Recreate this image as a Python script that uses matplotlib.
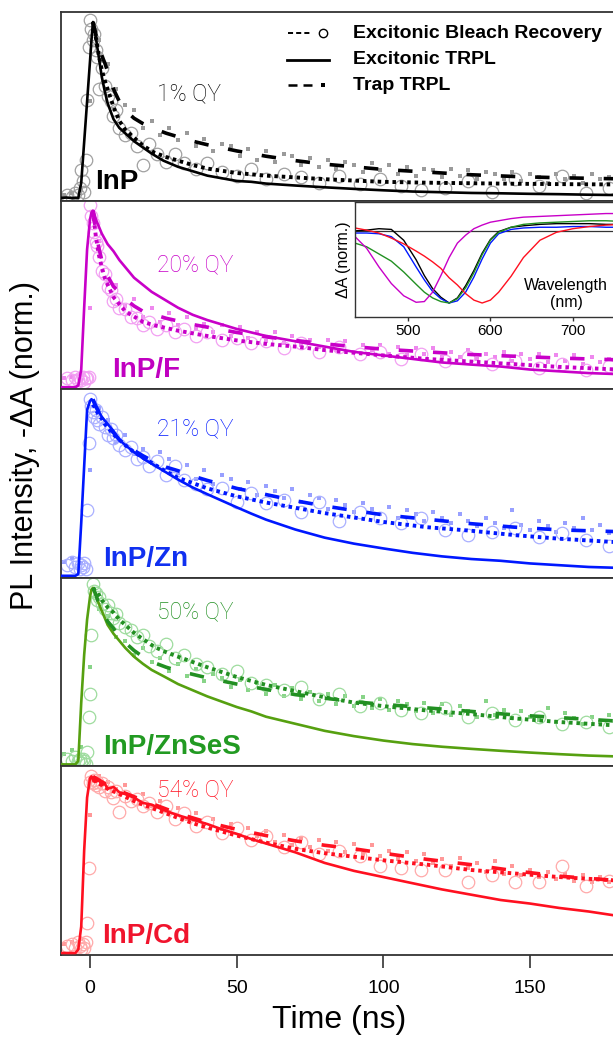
import numpy as np
import matplotlib
matplotlib.use("Agg")
import matplotlib.pyplot as plt

plt.rcParams['font.family'] = ['Liberation Sans', 'DejaVu Sans']

W, H = 613, 1039

samples = ["InP", "InP/F", "InP/Zn", "InP/ZnSeS", "InP/Cd"]
qy_labels = ["1% QY", "20% QY", "21% QY", "50% QY", "54% QY"]

# time grids (ns)
t_pl = [-10, -8, -6, -5, -4, -3, -2, -1, 0, 0.5, 1, 1.5, 2, 3, 4, 5, 6, 8, 10, 12, 15,
        18, 21, 25, 30, 35, 40, 45, 50, 55, 60, 70, 80, 90, 100, 110, 120, 130, 140,
        150, 160, 170, 180]
t_fit = [1, 2, 3, 4, 5, 6, 8, 10, 12, 15, 18, 22, 26, 30, 35, 40, 50, 60, 70, 80, 90,
         100, 115, 130, 145, 160, 180]
t_bleach = [-8, -6, -5, -4, -3.5, -3, -2.5, -2, -1.5, -1, -0.5, 0, 0.5, 1, 1.5, 2, 2.5,
            3, 4, 5, 6, 7, 8, 9, 10, 12, 14, 16, 18, 20, 23, 26, 29, 32, 36, 40, 45, 50,
            55, 60, 66, 72, 78, 85, 92, 99, 106, 113, 121, 129, 137, 145, 153, 161, 169,
            177]
t_trap = np.arange(-9, 181, 3)

# excitonic TRPL
pl_inp = [0.004, 0.006, 0.003, 0.005, 0.004, 0.09, 0.32, 0.55, 0.78, 0.90, 1.0, 0.96,
          0.91, 0.80, 0.69, 0.61, 0.54, 0.45, 0.40, 0.37, 0.325, 0.29, 0.255, 0.215,
          0.18, 0.155, 0.13, 0.115, 0.10, 0.095, 0.085, 0.074, 0.064, 0.055, 0.047,
          0.04, 0.036, 0.032, 0.03, 0.027, 0.025, 0.022, 0.02]
pl_f = [0.0, 0.0, 0.0, 0.0, 0.01, 0.10, 0.45, 0.78, 0.95, 0.99, 1.0, 0.98, 0.95, 0.91,
        0.87, 0.84, 0.81, 0.77, 0.72, 0.68, 0.62, 0.58, 0.54, 0.50, 0.45, 0.41, 0.38,
        0.355, 0.33, 0.31, 0.29, 0.26, 0.23, 0.20, 0.18, 0.16, 0.14, 0.128, 0.117, 0.10,
        0.09, 0.08, 0.074]
pl_zn = [0.0, 0.0, 0.0, 0.0, 0.01, 0.30, 0.62, 0.94, 0.99, 1.0, 0.99, 0.97, 0.95, 0.93,
         0.90, 0.88, 0.86, 0.82, 0.77, 0.74, 0.70, 0.665, 0.635, 0.595, 0.545, 0.50,
         0.462, 0.425, 0.388, 0.352, 0.318, 0.262, 0.216, 0.182, 0.155, 0.13, 0.11,
         0.095, 0.085, 0.07, 0.06, 0.05, 0.045]
pl_znses = [0.0, 0.0, 0.0, 0.0, 0.02, 0.35, 0.62, 0.82, 0.95, 0.99, 1.0, 0.98, 0.96,
            0.91, 0.87, 0.83, 0.79, 0.74, 0.70, 0.66, 0.61, 0.57, 0.535, 0.50, 0.455,
            0.42, 0.385, 0.355, 0.325, 0.30, 0.27, 0.23, 0.19, 0.16, 0.135, 0.115, 0.10,
            0.088, 0.077, 0.067, 0.058, 0.05, 0.045]
pl_cd = [0.0, 0.0, 0.0, 0.0, 0.02, 0.15, 0.58, 0.88, 0.99, 1.0, 0.98, 0.99, 0.97, 0.98,
         0.95, 0.96, 0.93, 0.94, 0.91, 0.90, 0.88, 0.85, 0.84, 0.81, 0.78, 0.755, 0.73,
         0.70, 0.675, 0.645, 0.62, 0.57, 0.51, 0.465, 0.43, 0.395, 0.36, 0.33, 0.30,
         0.28, 0.255, 0.235, 0.21]

# trap TRPL fits
trapfit_inp = [1.0, 0.93, 0.87, 0.81, 0.77, 0.72, 0.62, 0.55, 0.50, 0.455, 0.425, 0.395,
               0.37, 0.35, 0.325, 0.305, 0.27, 0.24, 0.215, 0.195, 0.18, 0.165, 0.15,
               0.135, 0.125, 0.118, 0.112]
trapfit_f = [1.0, 0.88, 0.79, 0.72, 0.67, 0.63, 0.57, 0.54, 0.50, 0.46, 0.43, 0.41, 0.39,
             0.375, 0.355, 0.34, 0.31, 0.285, 0.265, 0.245, 0.23, 0.215, 0.20, 0.185,
             0.175, 0.165, 0.155]
trapfit_zn = [1.0, 0.96, 0.93, 0.90, 0.87, 0.85, 0.81, 0.77, 0.74, 0.71, 0.68, 0.645,
              0.615, 0.595, 0.565, 0.54, 0.495, 0.46, 0.425, 0.395, 0.37, 0.345, 0.32,
              0.295, 0.275, 0.26, 0.25]
trapfit_znses = [1.0, 0.96, 0.91, 0.87, 0.84, 0.81, 0.77, 0.72, 0.69, 0.645, 0.61, 0.575,
                 0.55, 0.53, 0.51, 0.49, 0.455, 0.425, 0.395, 0.375, 0.355, 0.34, 0.32,
                 0.30, 0.28, 0.265, 0.245]
trapfit_cd = [1.0, 0.99, 0.98, 0.97, 0.96, 0.95, 0.935, 0.92, 0.905, 0.885, 0.865, 0.84,
              0.815, 0.79, 0.765, 0.74, 0.70, 0.665, 0.635, 0.61, 0.59, 0.565, 0.53, 0.50,
              0.465, 0.435, 0.41]

# excitonic bleach recovery fits
bleachfit_inp = [1.0, 0.91, 0.81, 0.73, 0.67, 0.62, 0.52, 0.44, 0.39, 0.345, 0.30, 0.26,
                 0.235, 0.215, 0.19, 0.17, 0.145, 0.13, 0.12, 0.11, 0.102, 0.095, 0.09,
                 0.087, 0.084, 0.082, 0.08]
bleachfit_f = [1.0, 0.85, 0.75, 0.68, 0.62, 0.58, 0.51, 0.47, 0.43, 0.40, 0.37, 0.35,
               0.335, 0.32, 0.305, 0.29, 0.265, 0.245, 0.23, 0.21, 0.195, 0.18, 0.16,
               0.145, 0.13, 0.115, 0.10]
bleachfit_zn = [0.97, 0.94, 0.91, 0.89, 0.86, 0.84, 0.80, 0.77, 0.74, 0.70, 0.67, 0.63,
                0.59, 0.555, 0.525, 0.495, 0.45, 0.415, 0.385, 0.355, 0.33, 0.305, 0.275,
                0.255, 0.23, 0.21, 0.19]
bleachfit_znses = [1.0, 0.98, 0.96, 0.93, 0.91, 0.89, 0.86, 0.82, 0.79, 0.745, 0.71,
                   0.665, 0.635, 0.61, 0.58, 0.55, 0.495, 0.45, 0.415, 0.38, 0.35, 0.33,
                   0.305, 0.285, 0.26, 0.24, 0.22]
bleachfit_cd = [0.98, 0.97, 0.96, 0.95, 0.94, 0.93, 0.915, 0.90, 0.885, 0.86, 0.84,
                0.815, 0.79, 0.765, 0.735, 0.71, 0.665, 0.625, 0.59, 0.565, 0.545, 0.525,
                0.50, 0.47, 0.45, 0.43, 0.41]

# excitonic bleach recovery data (circles)
bleach_inp = [0.02, 0.01, 0.03, 0.02, 0.06, 0.16, 0.10, 0.04, 0.22, 0.56, 0.86, 1.01,
              0.96, 0.90, 0.93, 0.84, 0.80, 0.62, 0.74, 0.64, 0.58, 0.55, 0.47, 0.50,
              0.40, 0.36, 0.37, 0.30, 0.19, 0.31, 0.25, 0.21, 0.25, 0.20, 0.17, 0.20,
              0.15, 0.13, 0.17, 0.11, 0.14, 0.12, 0.09, 0.13, 0.08, 0.11, 0.07, 0.05,
              0.06, 0.10, 0.04, 0.11, 0.07, 0.13, 0.03, 0.06]
bleach_f = [0.05, 0.04, 0.06, 0.04, 0.05, 0.04, 0.06, 0.03, 0.05, 0.05, 0.06, 1.03, 0.97,
            0.93, 0.88, 0.82, 0.80, 0.74, 0.66, 0.64, 0.57, 0.55, 0.49, 0.50, 0.45, 0.44,
            0.40, 0.39, 0.35, 0.37, 0.33, 0.35, 0.31, 0.33, 0.29, 0.31, 0.27, 0.28, 0.25,
            0.26, 0.22, 0.25, 0.20, 0.23, 0.19, 0.20, 0.16, 0.19, 0.15, 0.17, 0.13, 0.15,
            0.11, 0.13, 0.10, 0.12]
bleach_zn = [0.06, 0.08, 0.05, 0.07, 0.04, 0.06, 0.05, 0.07, 0.04, 0.37, 0.75, 1.0, 0.96,
             0.93, 0.90, 0.94, 0.88, 0.86, 0.90, 0.84, 0.80, 0.83, 0.78, 0.80, 0.74, 0.71,
             0.73, 0.66, 0.67, 0.62, 0.65, 0.57, 0.62, 0.54, 0.52, 0.49, 0.50, 0.42, 0.47,
             0.41, 0.43, 0.36, 0.42, 0.31, 0.36, 0.33, 0.30, 0.33, 0.26, 0.23, 0.25, 0.27,
             0.22, 0.24, 0.20, 0.17]
bleach_znses = [0.03, 0.02, 0.04, 0.02, 0.03, 0.01, 0.03, 0.02, 0.0, 0.07, 0.27, 0.40,
                0.73, 1.02, 0.98, 0.97, 0.93, 0.95, 0.91, 0.88, 0.90, 0.86, 0.83, 0.85,
                0.80, 0.78, 0.76, 0.72, 0.73, 0.67, 0.64, 0.68, 0.60, 0.62, 0.57, 0.55,
                0.51, 0.53, 0.46, 0.45, 0.42, 0.44, 0.37, 0.40, 0.33, 0.35, 0.31, 0.29,
                0.32, 0.27, 0.29, 0.25, 0.27, 0.23, 0.24, 0.21]
bleach_cd = [0.04, 0.05, 0.03, 0.06, 0.04, 0.02, 0.05, 0.03, 0.06, 0.17, 0.48, 0.97, 1.0,
             0.96, 0.98, 0.95, 0.97, 0.94, 0.96, 0.92, 0.94, 0.91, 0.88, 0.92, 0.80, 0.89,
             0.86, 0.87, 0.83, 0.85, 0.80, 0.83, 0.76, 0.79, 0.72, 0.74, 0.68, 0.71, 0.64,
             0.66, 0.60, 0.63, 0.56, 0.58, 0.55, 0.49, 0.48, 0.47, 0.47, 0.40, 0.44, 0.40,
             0.40, 0.49, 0.38, 0.41]

# trap TRPL data (small dots), sampled on t_trap
trap_inp = [0.02, 0.03, 0.05, 0.55, 0.90, 0.76, 0.62, 0.53, 0.50, 0.40, 0.44, 0.36, 0.40,
            0.33, 0.37, 0.30, 0.34, 0.27, 0.31, 0.30, 0.24, 0.28, 0.22, 0.27, 0.21, 0.25,
            0.24, 0.19, 0.23, 0.18, 0.22, 0.17, 0.21, 0.19, 0.15, 0.20, 0.16, 0.19, 0.14,
            0.18, 0.13, 0.17, 0.16, 0.12, 0.17, 0.13, 0.16, 0.11, 0.15, 0.14, 0.11, 0.15,
            0.10, 0.14, 0.12, 0.09, 0.14, 0.11, 0.13, 0.09, 0.14, 0.11, 0.12, 0.10]
trap_f = [0.05, 0.06, 0.04, 0.45, 0.83, 0.60, 0.58, 0.46, 0.50, 0.40, 0.45, 0.37, 0.42,
          0.35, 0.40, 0.33, 0.36, 0.31, 0.35, 0.29, 0.34, 0.28, 0.31, 0.26, 0.31, 0.25,
          0.29, 0.24, 0.27, 0.23, 0.27, 0.21, 0.26, 0.20, 0.24, 0.21, 0.24, 0.19, 0.23,
          0.18, 0.22, 0.19, 0.22, 0.17, 0.20, 0.17, 0.21, 0.16, 0.19, 0.17, 0.20, 0.15,
          0.19, 0.16, 0.19, 0.14, 0.18, 0.15, 0.18, 0.13, 0.17, 0.14, 0.16, 0.13]
trap_zn = [0.08, 0.10, 0.07, 0.60, 0.95, 0.88, 0.76, 0.80, 0.69, 0.72, 0.64, 0.70, 0.66,
           0.58, 0.63, 0.55, 0.60, 0.52, 0.57, 0.55, 0.49, 0.53, 0.46, 0.51, 0.48, 0.44,
           0.49, 0.42, 0.46, 0.44, 0.38, 0.43, 0.40, 0.36, 0.41, 0.38, 0.35, 0.39, 0.33,
           0.37, 0.35, 0.31, 0.36, 0.33, 0.30, 0.35, 0.31, 0.28, 0.33, 0.30, 0.27, 0.37,
           0.29, 0.26, 0.31, 0.28, 0.25, 0.30, 0.27, 0.33, 0.26, 0.29, 0.24, 0.28]
trap_znses = [0.06, 0.08, 0.10, 0.55, 0.88, 0.84, 0.72, 0.70, 0.62, 0.66, 0.58, 0.60,
              0.53, 0.57, 0.50, 0.54, 0.47, 0.51, 0.49, 0.44, 0.48, 0.42, 0.46, 0.40,
              0.45, 0.39, 0.43, 0.37, 0.41, 0.36, 0.40, 0.34, 0.39, 0.33, 0.38, 0.32,
              0.37, 0.31, 0.36, 0.34, 0.30, 0.35, 0.29, 0.34, 0.28, 0.33, 0.30, 0.27,
              0.36, 0.28, 0.31, 0.26, 0.30, 0.27, 0.25, 0.32, 0.24, 0.29, 0.26, 0.23,
              0.27, 0.24, 0.28, 0.22]
trap_cd = [0.05, 0.06, 0.08, 0.78, 1.0, 0.97, 0.93, 0.95, 0.88, 0.90, 0.83, 0.86, 0.80,
           0.82, 0.76, 0.79, 0.73, 0.76, 0.70, 0.73, 0.67, 0.71, 0.66, 0.69, 0.63, 0.67,
           0.61, 0.65, 0.60, 0.64, 0.58, 0.63, 0.57, 0.62, 0.56, 0.61, 0.55, 0.58, 0.53,
           0.57, 0.52, 0.56, 0.51, 0.53, 0.49, 0.54, 0.48, 0.51, 0.46, 0.52, 0.45, 0.49,
           0.44, 0.47, 0.43, 0.46, 0.42, 0.45, 0.41, 0.44, 0.40, 0.43, 0.40, 0.42]

# inset: transient absorption spectra
wavelength = [436, 450, 465, 480, 495, 510, 520, 530, 540, 550, 560, 570, 580, 590, 600,
              610, 625, 640, 660, 680, 700, 720, 740, 760]
ta_inp = [0.0, 0.01, 0.03, 0.02, -0.13, -0.40, -0.62, -0.80, -0.92, -1.0, -0.93, -0.76,
          -0.55, -0.31, -0.12, -0.01, 0.05, 0.07, 0.09, 0.10, 0.10, 0.10, 0.09, 0.09]
ta_zn = [-0.03, -0.03, -0.04, -0.08, -0.22, -0.50, -0.68, -0.84, -0.94, -1.0, -0.97,
         -0.85, -0.64, -0.39, -0.17, -0.04, 0.02, 0.04, 0.05, 0.05, 0.06, 0.06, 0.05, 0.05]
ta_znses = [-0.17, -0.22, -0.32, -0.42, -0.57, -0.74, -0.85, -0.93, -0.98, -1.0, -0.94,
            -0.79, -0.58, -0.33, -0.13, -0.02, 0.05, 0.09, 0.11, 0.12, 0.13, 0.14, 0.14,
            0.13]
ta_f = [-0.08, -0.24, -0.50, -0.73, -0.90, -0.99, -0.98, -0.85, -0.62, -0.37, -0.17,
        -0.06, 0.03, 0.08, 0.12, 0.14, 0.17, 0.19, 0.20, 0.21, 0.22, 0.23, 0.24, 0.24]
ta_cd = [0.04, 0.01, -0.03, -0.10, -0.18, -0.28, -0.35, -0.43, -0.52, -0.65, -0.75,
         -0.87, -0.96, -1.0, -0.96, -0.85, -0.63, -0.37, -0.13, -0.02, 0.03, 0.06, 0.08,
         0.09]

pl_data = [pl_inp, pl_f, pl_zn, pl_znses, pl_cd]
trapfit_data = [trapfit_inp, trapfit_f, trapfit_zn, trapfit_znses, trapfit_cd]
bleachfit_data = [bleachfit_inp, bleachfit_f, bleachfit_zn, bleachfit_znses, bleachfit_cd]
bleach_data = [bleach_inp, bleach_f, bleach_zn, bleach_znses, bleach_cd]
trap_data = [trap_inp, trap_f, trap_zn, trap_znses, trap_cd]

# colours per sample
line_colors = ["#000000", "#c800c8", "#0018ff", "#229022", "#ff1020"]
solid_colors = ["#000000", "#c800c8", "#0018ff", "#56a010", "#ff1020"]
light_colors = ["#a0a0a0", "#f2a0f2", "#aab0ff", "#9edc9e", "#ffaaaa"]
dot_colors = ["#9a9a9a", "#ee88ee", "#98a0ff", "#88d488", "#ff9898"]
label_colors = ["#000000", "#c000c0", "#1030f0", "#229a22", "#f0142d"]

# label placement (data units)
name_x = [1.7, 7.5, 4.4, 4.4, 4.1]
qy_y = [0.587, 0.692, 0.826, 0.863, 0.923]

fig = plt.figure(figsize=(W / 100, H / 100), dpi=100)

x_left, x_right = 60.7, 618.0
top0, ph = 12.0, 188.6
ppu = 176.6
spine_c = "#333333"

for i, name in enumerate(samples):
    top = top0 + i * ph
    ax = fig.add_axes([x_left / W, 1 - (top + ph) / H, (x_right - x_left) / W, ph / H])
    ax.set_xlim(-10, 180)
    ax.set_ylim(-2 / ppu, 1 + 10 / ppu)

    ax.plot(t_trap, trap_data[i], 's', ms=2.7, mew=0, color=dot_colors[i], zorder=1)
    ax.plot(t_bleach, bleach_data[i], 'o', ms=9, mfc='none', mew=0.9,
            mec=light_colors[i], zorder=1)
    ax.plot(t_pl, pl_data[i], '-', lw=1.9, color=solid_colors[i], zorder=3)
    ax.plot(t_fit, trapfit_data[i], color=line_colors[i], lw=2.6, dashes=(4, 5.5),
            zorder=4)
    ax.plot(t_fit, bleachfit_data[i], color=line_colors[i], lw=2.8, dashes=(0.9, 1.0),
            zorder=4)

    ax.text(name_x[i], 10 / ppu, name, fontsize=20, fontweight='bold',
            color=label_colors[i], va='baseline', ha='left', zorder=6)
    ax.text(22.8, qy_y[i], qy_labels[i], fontsize=16.5, color=line_colors[i],
            va='center', ha='left', family=['Roboto', 'Liberation Sans'],
            fontweight='light', zorder=6)

    for side in ['top', 'bottom', 'left']:
        ax.spines[side].set_color(spine_c)
        ax.spines[side].set_linewidth(1.3)
    ax.spines['right'].set_visible(False)
    ax.set_yticks([])
    if i == len(samples) - 1:
        ax.set_xticks([0, 50, 100, 150])
        ax.tick_params(axis='x', direction='out', length=9, width=1.2, color=spine_c,
                       labelsize=14, pad=9)
    else:
        ax.set_xticks([])

fig.text(339 / W, 1 - 1020 / H, "Time (ns)", ha='center', va='center', fontsize=23)
fig.text(25 / W, 1 - 445 / H, "PL Intensity, -\u0394A (norm.)", rotation=90,
         ha='center', va='center', fontsize=22)

# inset with the absorption spectra
ins = fig.add_axes([355 / W, 1 - 317 / H, (622.5 - 355) / W, (317 - 202) / H])
ins.set_facecolor('white')
ins.set_xlim(436, 760)
ins.set_ylim(-1.194, 0.40)
ins.axhline(0, color=spine_c, lw=0.9)
for spec, c in zip([ta_inp, ta_zn, ta_znses, ta_f, ta_cd],
                   ["#000000", "#0018ff", "#229022", "#c800c8", "#ff1020"]):
    ins.plot(wavelength, spec, color=c, lw=1.0)
ins.set_xticks([500, 600, 700])
ins.set_yticks([])
ins.tick_params(axis='x', direction='out', length=3, width=1, color=spine_c,
                labelsize=11, pad=2)
for s in ins.spines.values():
    s.set_color(spine_c)
    s.set_linewidth(1.0)
ins.set_ylabel("\u0394A (norm.)", fontsize=11.5, labelpad=3)
ins.text(691.5, -0.875, "Wavelength\n(nm)", ha='center', va='center', fontsize=11.5,
         linespacing=1.15)

# legend drawn in pixel space
lg = fig.add_axes([0, 0, 1, 1], facecolor='none')
lg.set_xlim(0, W)
lg.set_ylim(H, 0)
lg.axis('off')
lg.plot([288, 311], [33, 33], color='k', lw=1.4, dashes=(2.6, 1.6))
lg.plot([323], [33], 'o', ms=6, mfc='none', mec='k', mew=1.0)
lg.plot([287, 329], [60, 60], color='k', lw=2.0)
lg.plot([288, 313], [85, 85], color='k', lw=1.8, dashes=(3.6, 2.4))
lg.plot([323], [85], 's', ms=2.2, color='k', mew=0)
for y, txt in zip([33, 60, 85], ["Excitonic Bleach Recovery", "Excitonic TRPL",
                                  "Trap TRPL"]):
    lg.text(353, y, txt, fontsize=14, fontweight='bold', va='center', ha='left')

fig.savefig("out.png", dpi=100)
